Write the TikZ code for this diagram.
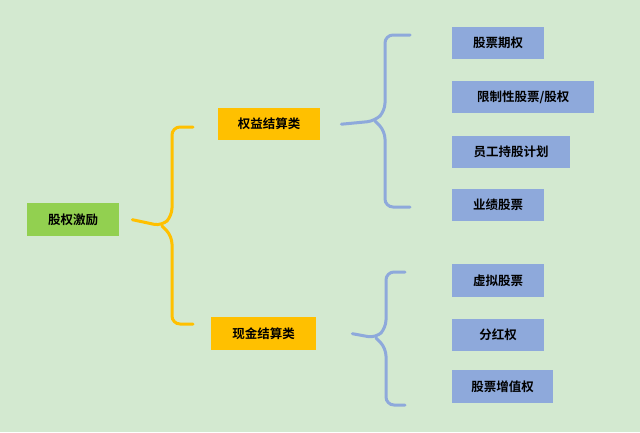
\documentclass[tikz,border=0pt]{standalone}
\usepackage{fontspec}
\setmainfont{Noto Sans CJK SC}[BoldFont={* Bold}]
\usetikzlibrary{positioning}
\definecolor{bg}{HTML}{D3E9D0}
\definecolor{leafgreen}{HTML}{92D050}
\definecolor{midorange}{HTML}{FFC000}
\definecolor{leafblue}{HTML}{8EA9DB}
\begin{document}
\begin{tikzpicture}[x=1pt,y=-1pt]
            \tikzstyle{box}=[inner sep=0pt, font=\fontsize{12.5}{14}\selectfont\bfseries, anchor=north west]
            \tikzstyle{brace}=[line width=3pt, rounded corners=8pt, line cap=round]
            \fill[bg] (0,0) rectangle (640,432);
            \useasboundingbox (0,0) rectangle (640,432);
            \node[box, fill=leafgreen, minimum width=92, minimum height=33] (root) at (27,203){股权激励};
            \node[box, fill=midorange, minimum width=102, minimum height=32] (eq) at (218,108){权益结算类};
            \node[box, fill=midorange, minimum width=105, minimum height=33] (cash) at (211,317){现金结算类};
            \node[box, fill=leafblue, minimum width=92, minimum height=32] (a1) at (452,27){股票期权};
            \node[box, fill=leafblue, minimum width=142, minimum height=32] (a2) at (452,81){限制性股票/股权};
            \node[box, fill=leafblue, minimum width=118, minimum height=32] (a3) at (452,136){员工持股计划};
            \node[box, fill=leafblue, minimum width=92, minimum height=32] (a4) at (452,189){业绩股票};
            \node[box, fill=leafblue, minimum width=92, minimum height=33] (b1) at (452,264){虚拟股票};
            \node[box, fill=leafblue, minimum width=92, minimum height=32] (b2) at (452,319){分红权};
            \node[box, fill=leafblue, minimum width=101, minimum height=33] (b3) at (452,370){股票增值权};
            % braces
            \coordinate (r0) at ([xshift=13pt]root.east);
            \coordinate (e0) at ([xshift=21pt]eq.east);
            \coordinate (c0) at ([xshift=36pt]cash.east);
            \draw[brace, midorange] (r0) -- (162,226) -- (172,216) -- (172,127) -- (193,127);
            \draw[brace, midorange] (162,226) -- (172,236) -- (172,324) -- (193,324);
            \draw[brace, leafblue] (e0) -- (375,121) -- (385,111) -- (385,35) -- (410,35);
            \draw[brace, leafblue] (375,121) -- (385,131) -- (385,207) -- (410,207);
            \draw[brace, leafblue] (c0) -- (376,338) -- (386,328) -- (386,272) -- (405,272);
            \draw[brace, leafblue] (376,338) -- (386,348) -- (386,405) -- (405,405);
        \end{tikzpicture}
\end{document}
